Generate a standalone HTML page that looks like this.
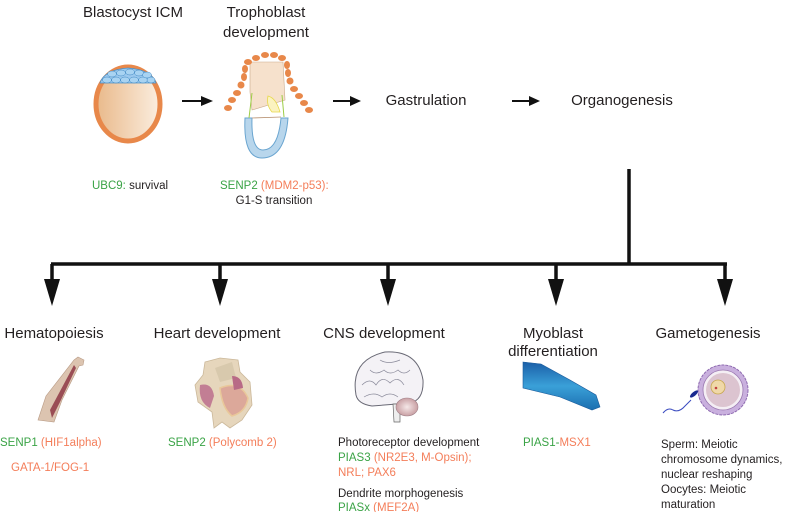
<!DOCTYPE html>
<html><head><meta charset="utf-8"><style>
body{margin:0;background:#fff;}
svg{display:block;font-family:"Liberation Sans",Arial,sans-serif;}
.t{font-size:15px;fill:#231f20;}
.s{font-size:11.5px;fill:#231f20;}
.g{fill:#3aa346;}
.o{fill:#f47e5a;}
</style></head><body>
<svg width="788" height="512" viewBox="0 0 788 512">
<defs>
<linearGradient id="yolk" x1="0" x2="1"><stop offset="0" stop-color="#e9b98a"/><stop offset="1" stop-color="#fbeee0"/></linearGradient>
<linearGradient id="mus" x1="0" x2="0" y1="0" y2="1"><stop offset="0" stop-color="#1b5fa8"/><stop offset="0.5" stop-color="#3aa0d8"/><stop offset="1" stop-color="#1b6fb0"/></linearGradient>
<radialGradient id="cb"><stop offset="0" stop-color="#f5e8e8"/><stop offset="1" stop-color="#c9a0a4"/></radialGradient>
</defs>
<text class="t" x="133" y="17" text-anchor="middle">Blastocyst ICM</text>
<text class="t" x="266" y="17" text-anchor="middle">Trophoblast</text>
<text class="t" x="266" y="37" text-anchor="middle">development</text>
<text class="t" x="426" y="105" text-anchor="middle">Gastrulation</text>
<text class="t" x="622" y="105" text-anchor="middle">Organogenesis</text>
<g stroke="#111" stroke-width="2" fill="#111">
<line x1="182" y1="101" x2="204" y2="101"/><path d="M201 96 L213 101 L201 106 Z" stroke="none"/>
<line x1="333" y1="101" x2="354" y2="101"/><path d="M350 96 L361 101 L350 106 Z" stroke="none"/>
<line x1="512" y1="101" x2="533" y2="101"/><path d="M529 96 L540 101 L529 106 Z" stroke="none"/>
</g>
<!-- blastocyst -->
<ellipse cx="128" cy="104" rx="32" ry="37" fill="url(#yolk)" stroke="#e8884a" stroke-width="5"/>
<path d="M100 83 Q104 70 128 68 Q152 70 156 83 Z" fill="#9cc9ee" stroke="#4a90c8" stroke-width="0.8"/>
<g fill="#a8d3f2" stroke="#3d87c2" stroke-width="0.5">
<ellipse cx="107" cy="80" rx="4.5" ry="3"/><ellipse cx="116" cy="80" rx="4.5" ry="3"/><ellipse cx="125" cy="80" rx="4.5" ry="3"/><ellipse cx="134" cy="80" rx="4.5" ry="3"/><ellipse cx="143" cy="80" rx="4.5" ry="3"/><ellipse cx="151" cy="80" rx="4" ry="3"/>
<ellipse cx="112" cy="74" rx="4.5" ry="3"/><ellipse cx="121" cy="73" rx="4.5" ry="3"/><ellipse cx="130" cy="72" rx="4.5" ry="3"/><ellipse cx="139" cy="73" rx="4.5" ry="3"/><ellipse cx="147" cy="75" rx="4.5" ry="3"/>
</g>
<!-- trophoblast -->
<path d="M250 62 L283 62 L285 100 L252 110 L250 92 Z" fill="#f6e1cc" stroke="#c9a98a" stroke-width="0.6"/>
<path d="M245 118 Q243 158 262 158 Q285 158 288 118 L281 118 Q278 150 263 150 Q251 150 252 118 Z" fill="#b8d6ec" stroke="#6aa5d0" stroke-width="1"/>
<path d="M252 118 L281 117" stroke="#b79070" stroke-width="0.8"/>
<path d="M252 93 L249 118 M282 95 L284 117" stroke="#9ccc44" stroke-width="1"/>
<path d="M268 96 Q276 98 280 112 L272 112 Q266 105 268 96 Z" fill="#fbf3c0" stroke="#e6d84a" stroke-width="0.8"/>
<g fill="#e8884a">
<ellipse cx="248" cy="62" rx="4" ry="3"/><ellipse cx="256" cy="58" rx="4" ry="3"/><ellipse cx="265" cy="55" rx="4" ry="3"/><ellipse cx="274" cy="55" rx="4" ry="3"/><ellipse cx="282" cy="58" rx="4" ry="3"/>
<ellipse cx="287" cy="65" rx="3" ry="4"/><ellipse cx="288" cy="73" rx="3" ry="4"/><ellipse cx="290" cy="81" rx="3.5" ry="3.5"/><ellipse cx="294" cy="89" rx="4" ry="3"/><ellipse cx="299" cy="96" rx="4" ry="3"/><ellipse cx="304" cy="103" rx="4" ry="3"/><ellipse cx="309" cy="110" rx="4" ry="3"/>
<ellipse cx="245" cy="69" rx="3" ry="4"/><ellipse cx="244" cy="77" rx="3" ry="4"/><ellipse cx="241" cy="85" rx="3.5" ry="3.5"/><ellipse cx="237" cy="93" rx="4" ry="3"/><ellipse cx="232" cy="100" rx="4" ry="3"/><ellipse cx="228" cy="108" rx="4" ry="3"/>
</g>
<text class="s" x="92" y="189"><tspan class="g">UBC9:</tspan> survival</text>
<text class="s" x="220" y="189"><tspan class="g">SENP2</tspan> <tspan class="o">(MDM2-p53):</tspan></text>
<text class="s" x="274" y="204" text-anchor="middle">G1-S transition</text>
<!-- tree -->
<g stroke="#111" stroke-width="3.5" fill="none">
<line x1="629" y1="169" x2="629" y2="264"/>
<line x1="51" y1="264" x2="727" y2="264"/>
<line x1="52" y1="264" x2="52" y2="285"/><line x1="220" y1="264" x2="220" y2="285"/><line x1="388" y1="264" x2="388" y2="285"/><line x1="556" y1="264" x2="556" y2="285"/><line x1="725" y1="264" x2="725" y2="285"/>
</g>
<g fill="#111">
<path d="M44 279 L60 279 L52 306 Z"/><path d="M212 279 L228 279 L220 306 Z"/><path d="M380 279 L396 279 L388 306 Z"/><path d="M548 279 L564 279 L556 306 Z"/><path d="M717 279 L733 279 L725 306 Z"/>
</g>
<text class="t" x="54" y="338" text-anchor="middle">Hematopoiesis</text>
<text class="t" x="217" y="338" text-anchor="middle">Heart development</text>
<text class="t" x="384" y="338" text-anchor="middle">CNS development</text>
<text class="t" x="553" y="338" text-anchor="middle">Myoblast</text>
<text class="t" x="553" y="356" text-anchor="middle">differentiation</text>
<text class="t" x="708" y="338" text-anchor="middle">Gametogenesis</text>
<!-- bone -->
<path d="M74 360 L78 357 L84 360 L83 365 L79 366 L62 400 L54 422 L38 420 L46 396 Z" fill="#dcc4b0" stroke="#b89a84" stroke-width="0.6"/>
<path d="M74 365 L50 410 L52 418 L60 402 L76 368 Z" fill="#9a4d55"/>
<!-- heart -->
<path d="M205 362 L220 358 L238 360 L240 372 L250 382 L252 405 L242 420 L230 428 L222 422 L214 428 L212 412 L198 402 L195 385 L203 375 Z" fill="#e6d6bc" stroke="#cbb89a" stroke-width="0.8"/>
<path d="M215 368 L232 362 L236 378 L220 382 Z" fill="#d8c9ad"/>
<path d="M220 388 Q240 380 248 398 Q246 412 232 416 Q222 408 220 388 Z" fill="#dca89a" stroke="#e9c89a" stroke-width="1.5"/>
<path d="M200 385 Q212 382 214 396 L210 408 Q198 402 200 385 Z" fill="#c27e94"/>
<path d="M232 376 Q242 376 243 388 L234 390 Z" fill="#b86a86"/>
<!-- brain -->
<path d="M356 395 Q350 360 385 352 Q418 350 423 380 Q424 400 410 403 L372 406 Q358 404 356 395 Z" fill="#f4f2f6" stroke="#6a6a76" stroke-width="1"/>
<path d="M362 385 q8 -8 14 0 q6 -10 14 -2 q8 -8 14 2 M364 397 q10 -6 18 0 q8 -6 16 0 M370 370 q6 6 14 0 q6 6 14 0 q6 6 12 0 M380 360 q8 5 20 0" stroke="#8a8a9a" stroke-width="0.7" fill="none"/>
<path d="M393 404 L394 422 L400 422 L400 404 Z" fill="#eee" stroke="#666" stroke-width="0.7"/>
<ellipse cx="407" cy="407" rx="11" ry="9" fill="url(#cb)" stroke="#a08088" stroke-width="0.6"/>
<!-- muscle -->
<path d="M523 362 L541 364 L570 380 L596 395 L600 407 L592 410 L560 397 L523 388 Z" fill="url(#mus)" stroke="#195a9a" stroke-width="0.6"/>
<!-- gametes -->
<circle cx="723" cy="390" r="25" fill="#c9b0de" stroke="#8e6ab0" stroke-width="1" stroke-dasharray="3 1"/>
<circle cx="723" cy="390" r="20" fill="#f4eef4" stroke="#9a78b0" stroke-width="0.8"/>
<circle cx="723" cy="390" r="17" fill="#dcc4d0"/>
<circle cx="718" cy="387" r="7" fill="#f0d8a8" stroke="#c8a850" stroke-width="0.8"/>
<circle cx="716" cy="388" r="1.3" fill="#c04040"/>
<path d="M663 413 q5 -6 10 -3 q6 3 12 -4 q4 -4 6 -6" stroke="#3a4bc0" stroke-width="1" fill="none"/>
<ellipse cx="694" cy="394" rx="5" ry="2" fill="#1a2a90" transform="rotate(-40 694 394)"/>
<!-- bottom texts -->
<text class="s" x="0" y="446"><tspan class="g">SENP1</tspan> <tspan class="o">(HIF1alpha)</tspan></text>
<text class="s o" x="11" y="471">GATA-1/FOG-1</text>
<text class="s" x="168" y="446"><tspan class="g">SENP2</tspan> <tspan class="o">(Polycomb 2)</tspan></text>
<text class="s" x="338" y="446">Photoreceptor development</text>
<text class="s" x="338" y="461"><tspan class="g">PIAS3</tspan> <tspan class="o">(NR2E3, M-Opsin);</tspan></text>
<text class="s o" x="338" y="476">NRL; PAX6</text>
<text class="s" x="338" y="497">Dendrite morphogenesis</text>
<text class="s" x="338" y="511"><tspan class="g">PIASx</tspan> <tspan class="o">(MEF2A)</tspan></text>
<text class="s" x="523" y="446"><tspan class="g">PIAS1-</tspan><tspan class="o">MSX1</tspan></text>
<text class="s" x="661" y="448">Sperm: Meiotic</text>
<text class="s" x="661" y="463">chromosome dynamics,</text>
<text class="s" x="661" y="478">nuclear reshaping</text>
<text class="s" x="661" y="493">Oocytes: Meiotic</text>
<text class="s" x="661" y="508">maturation</text>
</svg>
</body></html>
